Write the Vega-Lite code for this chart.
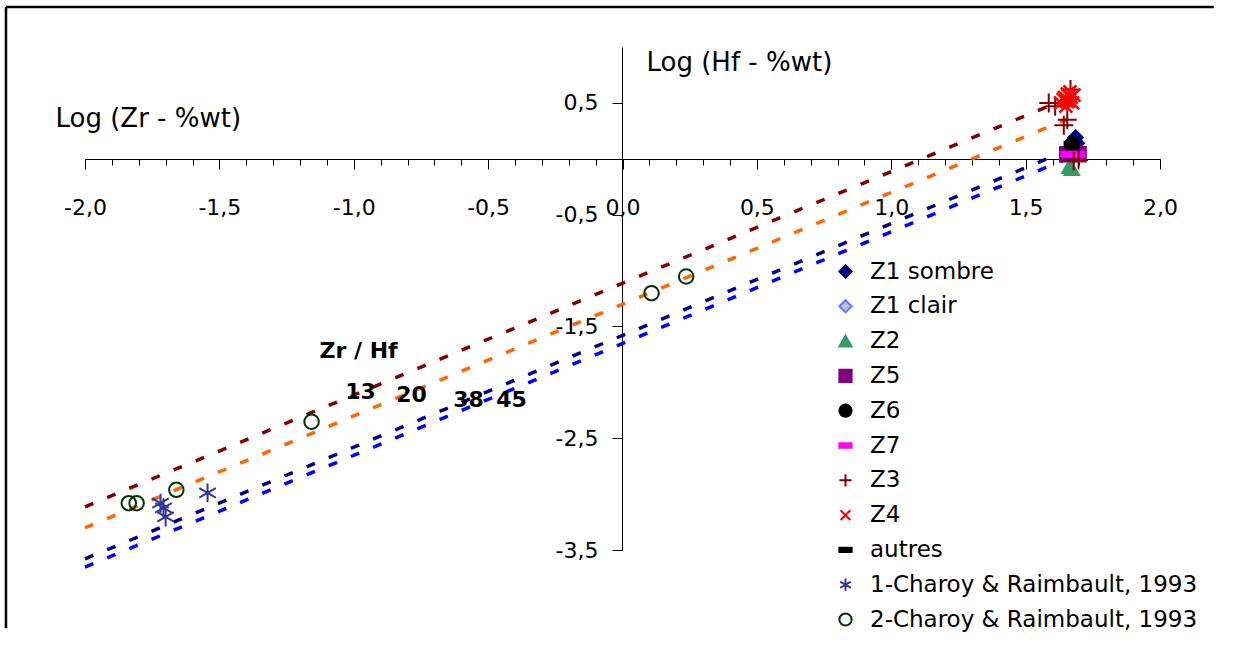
{
  "$schema": "https://vega.github.io/schema/vega-lite/v6.json",
  "width": 1229,
  "height": 639,
  "autosize": {"type": "none"},
  "padding": {"left": 6, "top": 7, "right": 0, "bottom": 0},
  "background": "white",
  "config": {
    "view": {"stroke": null},
    "font": "DejaVu Sans",
    "axis": {"domainColor": "black", "tickColor": "black", "labelColor": "black", "titleColor": "black", "labelFont": "DejaVu Sans", "labelFontSize": 22, "titleFont": "DejaVu Sans", "titleFontSize": 26, "titleFontWeight": "normal", "grid": false, "domainWidth": 1, "tickWidth": 1},
    "legend": {"orient": "none", "legendX": 828, "legendY": 253, "labelFont": "DejaVu Sans", "labelFontSize": 23, "labelColor": "black", "labelLimit": 600, "symbolSize": 150, "symbolStrokeWidth": 2, "rowPadding": 10.8, "labelOffset": 13, "padding": 0, "symbolOpacity": 1}
  },
  "resolve": {"axis": {"x": "independent"}},
  "datasets": {
    "frame": [{"part": "frame"}],
    "lines": [
      {"ratio": "13", "logZr": -2, "logHf": -3.114},
      {"ratio": "13", "logZr": 1.7, "logHf": 0.586},
      {"ratio": "20", "logZr": -2, "logHf": -3.301},
      {"ratio": "20", "logZr": 1.7, "logHf": 0.399},
      {"ratio": "38", "logZr": -2, "logHf": -3.58},
      {"ratio": "38", "logZr": 1.7, "logHf": 0.12},
      {"ratio": "45", "logZr": -2, "logHf": -3.653},
      {"ratio": "45", "logZr": 1.7, "logHf": 0.047}
    ],
    "points": [
      {"series": "Z1 sombre", "logZr": 1.686, "logHf": 0.19},
      {"series": "Z1 sombre", "logZr": 1.69, "logHf": 0.14},
      {"series": "Z1 sombre", "logZr": 1.68, "logHf": 0.1},
      {"series": "Z1 clair", "logZr": 1.675, "logHf": 0.07},
      {"series": "Z2", "logZr": 1.663, "logHf": -0.07},
      {"series": "Z2", "logZr": 1.672, "logHf": -0.09},
      {"series": "Z5", "logZr": 1.655, "logHf": 0.04},
      {"series": "Z5", "logZr": 1.697, "logHf": 0.04},
      {"series": "Z5", "logZr": 1.675, "logHf": 0.06},
      {"series": "Z6", "logZr": 1.673, "logHf": 0.125},
      {"series": "Z7", "logZr": 1.66, "logHf": 0.04},
      {"series": "Z7", "logZr": 1.69, "logHf": 0.04},
      {"series": "Z3", "logZr": 1.586, "logHf": 0.5},
      {"series": "Z3", "logZr": 1.61, "logHf": 0.47},
      {"series": "Z3", "logZr": 1.667, "logHf": 0.62},
      {"series": "Z3", "logZr": 1.655, "logHf": 0.35},
      {"series": "Z3", "logZr": 1.642, "logHf": 0.3},
      {"series": "Z3", "logZr": 1.679, "logHf": -0.02},
      {"series": "Z3", "logZr": 1.697, "logHf": -0.01},
      {"series": "Z4", "logZr": 1.63, "logHf": 0.5},
      {"series": "Z4", "logZr": 1.645, "logHf": 0.55},
      {"series": "Z4", "logZr": 1.655, "logHf": 0.58},
      {"series": "Z4", "logZr": 1.66, "logHf": 0.52},
      {"series": "Z4", "logZr": 1.665, "logHf": 0.6},
      {"series": "Z4", "logZr": 1.67, "logHf": 0.55},
      {"series": "Z4", "logZr": 1.675, "logHf": 0.5},
      {"series": "Z4", "logZr": 1.65, "logHf": 0.47},
      {"series": "Z4", "logZr": 1.64, "logHf": 0.53},
      {"series": "Z4", "logZr": 1.68, "logHf": 0.57},
      {"series": "Z4", "logZr": 1.66, "logHf": 0.56},
      {"series": "Z4", "logZr": 1.655, "logHf": 0.51},
      {"series": "autres", "logZr": 1.672, "logHf": 0.13},
      {"series": "1-Charoy & Raimbault, 1993", "logZr": -1.719, "logHf": -3.081},
      {"series": "1-Charoy & Raimbault, 1993", "logZr": -1.708, "logHf": -3.123},
      {"series": "1-Charoy & Raimbault, 1993", "logZr": -1.7, "logHf": -3.204},
      {"series": "1-Charoy & Raimbault, 1993", "logZr": -1.544, "logHf": -2.989},
      {"series": "2-Charoy & Raimbault, 1993", "logZr": -1.837, "logHf": -3.081},
      {"series": "2-Charoy & Raimbault, 1993", "logZr": -1.808, "logHf": -3.081},
      {"series": "2-Charoy & Raimbault, 1993", "logZr": -1.66, "logHf": -2.962},
      {"series": "2-Charoy & Raimbault, 1993", "logZr": -1.157, "logHf": -2.353},
      {"series": "2-Charoy & Raimbault, 1993", "logZr": 0.108, "logHf": -1.202},
      {"series": "2-Charoy & Raimbault, 1993", "logZr": 0.237, "logHf": -1.053}
    ],
    "labels": [
      {"label": "Zr / Hf", "logZr": -0.982, "logHf": -1.719},
      {"label": "13", "logZr": -0.975, "logHf": -2.085},
      {"label": "20", "logZr": -0.785, "logHf": -2.11},
      {"label": "38", "logZr": -0.573, "logHf": -2.157},
      {"label": "45", "logZr": -0.413, "logHf": -2.157}
    ]
  },
  "layer": [
    {
      "data": {"name": "frame"},
      "mark": {"type": "rule", "strokeWidth": 2.5, "color": "black"},
      "encoding": {
        "x": {"datum": -2.294, "type": "quantitative", "scale": {"domain": [-2, 2], "range": [79, 1154], "nice": false, "zero": false}, "axis": null},
        "x2": {"datum": 2.2},
        "y": {"datum": 1.358, "type": "quantitative", "scale": {"domain": [-3.5, 1], "range": [543, 40], "nice": false, "zero": false}}
      }
    },
    {
      "data": {"name": "frame"},
      "mark": {"type": "rule", "strokeWidth": 2.5, "color": "black"},
      "encoding": {
        "x": {"datum": -2.294, "type": "quantitative", "scale": {"domain": [-2, 2], "range": [79, 1154], "nice": false, "zero": false}, "axis": null},
        "y": {"datum": 1.358, "type": "quantitative", "scale": {"domain": [-3.5, 1], "range": [543, 40], "nice": false, "zero": false}},
        "y2": {"datum": -4.2}
      }
    },
    {
      "data": {"name": "lines"},
      "mark": {"type": "line", "strokeWidth": 3.5, "strokeDash": [9, 15]},
      "encoding": {
        "x": {
          "field": "logZr", "type": "quantitative",
          "scale": {"domain": [-2, 2], "range": [79, 1154], "nice": false, "zero": false},
          "axis": {
            "orient": "bottom", "offset": -487,
            "values": [-2, -1.9, -1.8, -1.7, -1.6, -1.5, -1.4, -1.3, -1.2, -1.1, -1, -0.9, -0.8, -0.7, -0.6, -0.5, -0.4, -0.3, -0.2, -0.1, 0, 0.1, 0.2, 0.3, 0.4, 0.5, 0.6, 0.7, 0.8, 0.9, 1, 1.1, 1.2, 1.3, 1.4, 1.5, 1.6, 1.7, 1.8, 1.9, 2],
            "tickSize": 6, "labels": false, "domain": true, "title": null
          }
        },
        "y": {
          "field": "logHf", "type": "quantitative",
          "scale": {"domain": [-3.5, 1], "range": [543, 40], "nice": false, "zero": false},
          "axis": {
            "orient": "left", "offset": -616,
            "values": [0.5, -0.5, -1.5, -2.5, -3.5],
            "tickSize": 10,
            "labelExpr": "(datum.value < 0 ? '-' : '') + replace(format(abs(datum.value), '.1f'), '.', ',')",
            "labelPadding": 14, "labelBaseline": "middle", "labelFlush": false, "labelOverlap": false, "labelBound": false,
            "title": "Log (Hf - %wt)", "titleX": 24, "titleY": 55, "titleAlign": "left", "titleBaseline": "middle", "titleAngle": 0
          }
        },
        "color": {
          "field": "ratio", "type": "nominal",
          "scale": {"domain": ["13", "20", "38", "45"], "range": ["#800000", "#ff6600", "#000080", "#0000ff"]},
          "legend": null
        }
      }
    },
    {
      "data": {"name": "points"},
      "transform": [{"filter": "datum.series !== 'Z3' && datum.series !== 'Z4' && datum.series !== '1-Charoy & Raimbault, 1993'"}],
      "mark": {"type": "point", "strokeWidth": 2, "opacity": 1, "size": 210},
      "encoding": {
        "x": {
          "field": "logZr", "type": "quantitative",
          "scale": {"domain": [-2, 2], "range": [79, 1154], "nice": false, "zero": false},
          "axis": {
            "orient": "bottom", "offset": -487,
            "values": [-2, -1.5, -1, -0.5, 0, 0.5, 1, 1.5, 2],
            "tickSize": 10, "domain": false,
            "labelExpr": "(datum.value < 0 ? '-' : '') + replace(format(abs(datum.value), '.1f'), '.', ',')",
            "labelBaseline": "top", "labelPadding": 28, "labelFlush": false, "labelOverlap": false, "labelBound": false,
            "title": "Log (Zr - %wt)", "titleX": 49, "titleY": -41, "titleAlign": "left", "titleBaseline": "middle", "titleAngle": 0
          }
        },
        "y": {"field": "logHf", "type": "quantitative", "scale": {"domain": [-3.5, 1], "range": [543, 40], "nice": false, "zero": false}},
        "shape": {
          "field": "series", "type": "nominal", "title": null,
          "scale": {
            "domain": ["Z1 sombre", "Z1 clair", "Z2", "Z5", "Z6", "Z7", "Z3", "Z4", "autres", "1-Charoy & Raimbault, 1993", "2-Charoy & Raimbault, 1993"],
            "range": ["diamond", "diamond", "triangle-up", "square", "circle", "M-1,-0.35H1V0.35H-1Z", "M-1,0H1M0,-1V1", "M-0.8,-0.8L0.8,0.8M-0.8,0.8L0.8,-0.8", "M-1,-0.35H1V0.35H-1Z", "M0,-1V1M-0.87,-0.5L0.87,0.5M-0.87,0.5L0.87,-0.5", "circle"]
          }
        },
        "fill": {
          "field": "series", "type": "nominal", "title": null,
          "scale": {
            "domain": ["Z1 sombre", "Z1 clair", "Z2", "Z5", "Z6", "Z7", "Z3", "Z4", "autres", "1-Charoy & Raimbault, 1993", "2-Charoy & Raimbault, 1993"],
            "range": ["#000080", "#c0c0c0", "#339966", "#800080", "#000000", "#ff00ff", "transparent", "transparent", "#000000", "transparent", "transparent"]
          }
        },
        "stroke": {
          "field": "series", "type": "nominal", "title": null,
          "scale": {
            "domain": ["Z1 sombre", "Z1 clair", "Z2", "Z5", "Z6", "Z7", "Z3", "Z4", "autres", "1-Charoy & Raimbault, 1993", "2-Charoy & Raimbault, 1993"],
            "range": ["#000080", "#5b7bff", "#339966", "#800080", "#000000", "#ff00ff", "#800000", "#ff0000", "#000000", "#333399", "#003300"]
          }
        }
      }
    },
    {
      "data": {"name": "points"},
      "transform": [{"filter": "datum.series === 'Z3' || datum.series === '1-Charoy & Raimbault, 1993'"}],
      "mark": {"type": "point", "strokeWidth": 2, "opacity": 1, "size": 360},
      "encoding": {
        "x": {"field": "logZr", "type": "quantitative", "scale": {"domain": [-2, 2], "range": [79, 1154], "nice": false, "zero": false}, "axis": null},
        "y": {"field": "logHf", "type": "quantitative", "scale": {"domain": [-3.5, 1], "range": [543, 40], "nice": false, "zero": false}},
        "shape": {
          "field": "series", "type": "nominal", "title": null,
          "scale": {
            "domain": ["Z1 sombre", "Z1 clair", "Z2", "Z5", "Z6", "Z7", "Z3", "Z4", "autres", "1-Charoy & Raimbault, 1993", "2-Charoy & Raimbault, 1993"],
            "range": ["diamond", "diamond", "triangle-up", "square", "circle", "M-1,-0.35H1V0.35H-1Z", "M-1,0H1M0,-1V1", "M-0.8,-0.8L0.8,0.8M-0.8,0.8L0.8,-0.8", "M-1,-0.35H1V0.35H-1Z", "M0,-1V1M-0.87,-0.5L0.87,0.5M-0.87,0.5L0.87,-0.5", "circle"]
          }
        },
        "fill": {
          "field": "series", "type": "nominal", "title": null,
          "scale": {
            "domain": ["Z1 sombre", "Z1 clair", "Z2", "Z5", "Z6", "Z7", "Z3", "Z4", "autres", "1-Charoy & Raimbault, 1993", "2-Charoy & Raimbault, 1993"],
            "range": ["#000080", "#c0c0c0", "#339966", "#800080", "#000000", "#ff00ff", "transparent", "transparent", "#000000", "transparent", "transparent"]
          }
        },
        "stroke": {
          "field": "series", "type": "nominal", "title": null,
          "scale": {
            "domain": ["Z1 sombre", "Z1 clair", "Z2", "Z5", "Z6", "Z7", "Z3", "Z4", "autres", "1-Charoy & Raimbault, 1993", "2-Charoy & Raimbault, 1993"],
            "range": ["#000080", "#5b7bff", "#339966", "#800080", "#000000", "#ff00ff", "#800000", "#ff0000", "#000000", "#333399", "#003300"]
          }
        }
      }
    },
    {
      "data": {"name": "points"},
      "transform": [{"filter": "datum.series === 'Z4'"}],
      "mark": {"type": "point", "strokeWidth": 2.5, "opacity": 1, "size": 260},
      "encoding": {
        "x": {"field": "logZr", "type": "quantitative", "scale": {"domain": [-2, 2], "range": [79, 1154], "nice": false, "zero": false}, "axis": null},
        "y": {"field": "logHf", "type": "quantitative", "scale": {"domain": [-3.5, 1], "range": [543, 40], "nice": false, "zero": false}},
        "shape": {
          "field": "series", "type": "nominal", "title": null,
          "scale": {
            "domain": ["Z1 sombre", "Z1 clair", "Z2", "Z5", "Z6", "Z7", "Z3", "Z4", "autres", "1-Charoy & Raimbault, 1993", "2-Charoy & Raimbault, 1993"],
            "range": ["diamond", "diamond", "triangle-up", "square", "circle", "M-1,-0.35H1V0.35H-1Z", "M-1,0H1M0,-1V1", "M-0.8,-0.8L0.8,0.8M-0.8,0.8L0.8,-0.8", "M-1,-0.35H1V0.35H-1Z", "M0,-1V1M-0.87,-0.5L0.87,0.5M-0.87,0.5L0.87,-0.5", "circle"]
          }
        },
        "fill": {
          "field": "series", "type": "nominal", "title": null,
          "scale": {
            "domain": ["Z1 sombre", "Z1 clair", "Z2", "Z5", "Z6", "Z7", "Z3", "Z4", "autres", "1-Charoy & Raimbault, 1993", "2-Charoy & Raimbault, 1993"],
            "range": ["#000080", "#c0c0c0", "#339966", "#800080", "#000000", "#ff00ff", "transparent", "transparent", "#000000", "transparent", "transparent"]
          }
        },
        "stroke": {
          "field": "series", "type": "nominal", "title": null,
          "scale": {
            "domain": ["Z1 sombre", "Z1 clair", "Z2", "Z5", "Z6", "Z7", "Z3", "Z4", "autres", "1-Charoy & Raimbault, 1993", "2-Charoy & Raimbault, 1993"],
            "range": ["#000080", "#5b7bff", "#339966", "#800080", "#000000", "#ff00ff", "#800000", "#ff0000", "#000000", "#333399", "#003300"]
          }
        }
      }
    },
    {
      "data": {"name": "labels"},
      "mark": {"type": "text", "font": "DejaVu Sans", "fontSize": 22, "fontWeight": "bold", "color": "black"},
      "encoding": {
        "x": {"field": "logZr", "type": "quantitative", "scale": {"domain": [-2, 2], "range": [79, 1154], "nice": false, "zero": false}, "axis": null},
        "y": {"field": "logHf", "type": "quantitative", "scale": {"domain": [-3.5, 1], "range": [543, 40], "nice": false, "zero": false}},
        "text": {"field": "label", "type": "nominal"}
      }
    }
  ]
}
